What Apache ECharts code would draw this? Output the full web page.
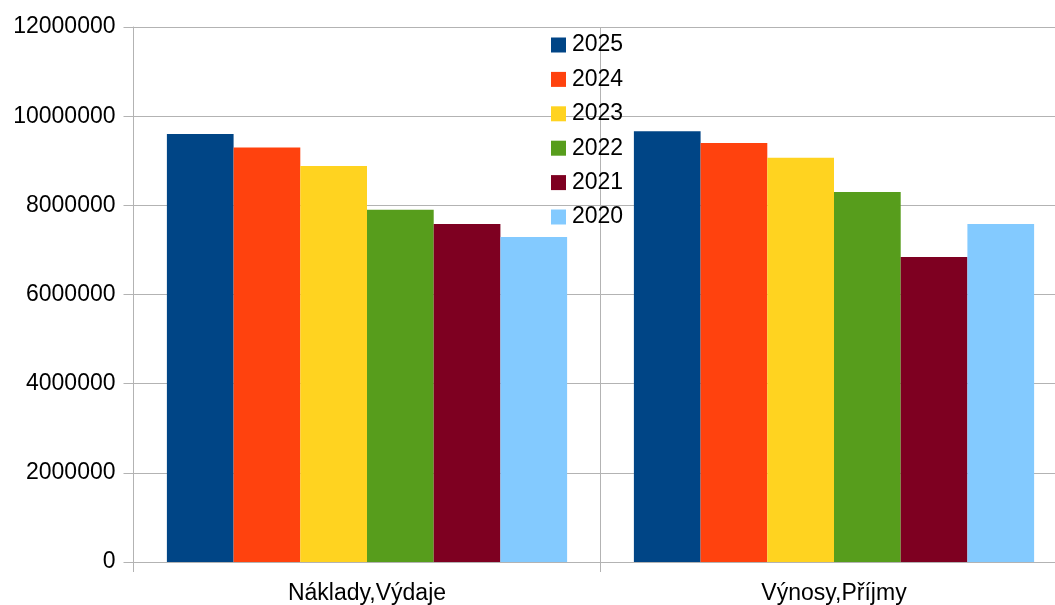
<!DOCTYPE html>
<html>
<head>
<meta charset="utf-8">
<script src="https://cdn.jsdelivr.net/npm/echarts@6/dist/echarts.min.js"></script>
<style>html,body{margin:0;padding:0;background:#fff;overflow:hidden;}#c{width:1072px;height:605px;}</style>
</head>
<body>
<div id="c"></div>
<script>
var categories = ['Náklady,Výdaje', 'Výnosy,Příjmy'];
var years = ['2025', '2024', '2023', '2022', '2021', '2020'];
var v2025 = [9600000, 9660000];
var v2024 = [9300000, 9400000];
var v2023 = [8880000, 9070000];
var v2022 = [7900000, 8300000];
var v2021 = [7580000, 6840000];
var v2020 = [7290000, 7580000];
var yTicks = [0, 2000000, 4000000, 6000000, 8000000, 10000000, 12000000];

var colors = ['#004586', '#ff420e', '#ffd320', '#579d1c', '#7e0021', '#83caff'];
var values = [v2025, v2024, v2023, v2022, v2021, v2020];
var font = 'Liberation Sans';
var chart = echarts.init(document.getElementById('c'));
chart.setOption({
  animation: false,
  color: colors,
  grid: { left: 133.5, top: 27, width: 934, height: 535.5, containLabel: false },
  legend: {
    orient: 'vertical',
    left: 546,
    top: 28.5,
    itemWidth: 15,
    itemHeight: 15,
    itemGap: 11.4,
    icon: 'rect',
    data: years,
    textStyle: { fontFamily: font, fontSize: 23, color: '#000', padding: [0,0,0,1] }
  },
  xAxis: {
    type: 'category',
    data: categories,
    boundaryGap: true,
    axisLine: { show: true, lineStyle: { color: '#b3b3b3', width: 1 } },
    axisTick: { show: true, length: 10, lineStyle: { color: '#b3b3b3' } },
    splitLine: { show: true, lineStyle: { color: '#b3b3b3', width: 1 } },
    axisLabel: { fontFamily: font, fontSize: 23, color: '#000', margin: 20 }
  },
  yAxis: {
    type: 'value',
    min: yTicks[0],
    max: yTicks[yTicks.length - 1],
    interval: yTicks[1] - yTicks[0],
    axisLine: { show: true, lineStyle: { color: '#b3b3b3', width: 1 } },
    axisTick: { show: true, length: 10, lineStyle: { color: '#b3b3b3' } },
    splitLine: { show: true, lineStyle: { color: '#b3b3b3', width: 1 } },
    axisLabel: { fontFamily: font, fontSize: 23, color: '#000', margin: 18, formatter: function (v) { return String(v); } }
  },
  series: years.map(function (y, i) {
    return {
      name: y,
      type: 'bar',
      data: values[i],
      barGap: '0%',
      barCategoryGap: '14.3%',
      itemStyle: { color: colors[i] }
    };
  })
});
</script>
</body>
</html>
